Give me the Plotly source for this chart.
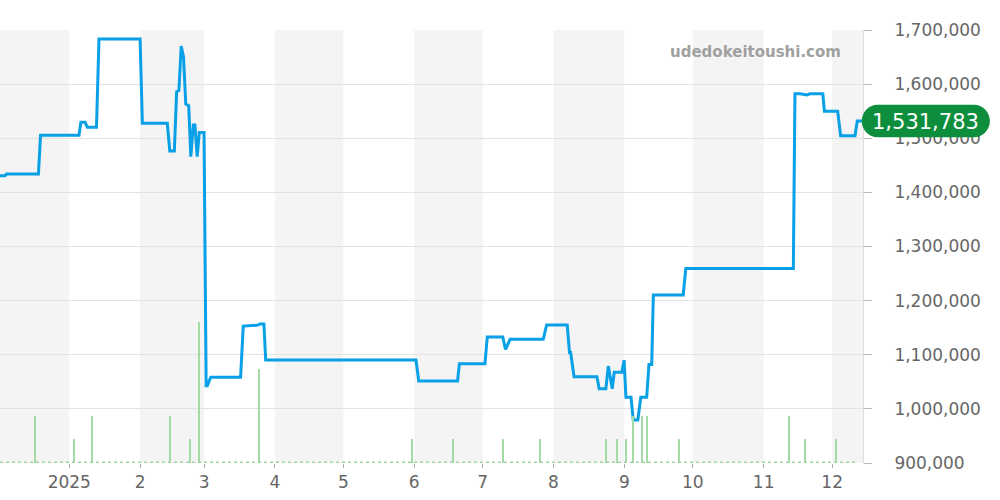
import plotly.graph_objects as go

# price history (JPY)
price_dates = [
    "2024-12-01 12:00", "2024-12-03 20:00", "2024-12-04 14:00", "2024-12-18 12:00", "2024-12-19 10:00",
    "2025-01-05 06:00", "2025-01-06 02:00", "2025-01-07 22:00", "2025-01-08 22:00", "2025-01-12 22:00",
    "2025-01-14 00:00", "2025-02-01 00:00", "2025-02-02 00:00", "2025-02-12 22:00", "2025-02-14 00:00",
    "2025-02-16 00:00", "2025-02-17 00:00", "2025-02-18 00:00", "2025-02-19 00:00", "2025-02-20 00:00",
    "2025-02-21 00:00", "2025-02-22 07:00", "2025-02-23 05:00", "2025-02-24 07:00", "2025-02-25 00:00",
    "2025-02-26 00:00", "2025-02-26 22:00", "2025-03-01 00:00", "2025-03-01 22:00", "2025-03-02 10:00",
    "2025-03-03 22:00", "2025-03-17 00:00", "2025-03-18 04:00", "2025-03-24 07:00", "2025-03-25 12:00",
    "2025-03-27 05:00", "2025-03-28 00:00", "2025-06-01 19:00", "2025-06-03 00:00", "2025-06-20 00:00",
    "2025-06-20 19:00", "2025-07-02 00:00", "2025-07-03 00:00", "2025-07-09 19:00", "2025-07-11 00:00",
    "2025-07-13 00:00", "2025-07-27 12:00", "2025-07-29 00:00", "2025-08-07 00:00", "2025-08-08 00:00",
    "2025-08-08 12:00", "2025-08-10 00:00", "2025-08-20 00:00", "2025-08-21 00:00", "2025-08-23 22:00",
    "2025-08-25 00:00", "2025-08-26 17:00", "2025-08-27 14:00", "2025-08-30 22:00", "2025-08-31 22:00",
    "2025-09-01 17:00", "2025-09-03 22:00", "2025-09-04 22:00", "2025-09-06 22:00", "2025-09-08 05:00",
    "2025-09-10 19:00", "2025-09-11 19:00", "2025-09-13 00:00", "2025-09-13 17:00", "2025-09-26 19:00",
    "2025-09-27 22:00", "2025-11-14 00:00", "2025-11-14 17:00", "2025-11-17 00:00", "2025-11-19 22:00",
    "2025-11-21 07:00", "2025-11-26 22:00", "2025-11-27 14:00", "2025-12-03 10:00", "2025-12-04 00:00",
    "2025-12-04 17:00", "2025-12-11 00:00", "2025-12-12 00:00", "2025-12-14 00:00",
]
prices = [
    1430500, 1430500, 1434000, 1434000, 1505500,
    1505500, 1529500, 1529500, 1520500, 1520500,
    1683500, 1683500, 1527500, 1527500, 1476500,
    1476500, 1586000, 1588000, 1670500, 1650500,
    1563000, 1560000, 1466000, 1524500, 1524500,
    1466000, 1510500, 1510500, 1042500, 1042500,
    1058500, 1058500, 1153000, 1154500, 1157000,
    1157000, 1090300, 1090300, 1051500, 1051500,
    1083500, 1083500, 1133000, 1133000, 1110000,
    1128500, 1128500, 1155000, 1155000, 1104000,
    1104000, 1059500, 1059500, 1037000, 1037000,
    1079000, 1037000, 1067500, 1067500, 1090000,
    1021500, 1021500, 979500, 979500, 1021500,
    1021500, 1082000, 1082000, 1210500, 1210500,
    1259500, 1259500, 1582000, 1582000, 1580000,
    1582000, 1582000, 1550000, 1550000, 1525000,
    1504500, 1504500, 1531783, 1531783,
]

# trade volume
vol_dates = [
    "2024-12-17", "2025-01-03", "2025-01-11", "2025-02-14", "2025-02-23", "2025-02-27",
    "2025-03-25", "2025-05-31", "2025-06-18", "2025-07-10", "2025-07-26", "2025-08-24",
    "2025-08-29", "2025-09-02", "2025-09-05", "2025-09-09", "2025-09-11", "2025-09-25",
    "2025-11-12", "2025-11-19", "2025-12-03",
]
volumes = [2, 1, 2, 2, 1, 6, 4, 1, 1, 1, 1, 1, 1, 1, 2, 2, 2, 1, 2, 1, 1]

tick_dates = ["2025-01-01", "2025-02-01", "2025-03-01", "2025-04-01", "2025-05-01", "2025-06-01",
              "2025-07-01", "2025-08-01", "2025-09-01", "2025-10-01", "2025-11-01", "2025-12-01"]
tick_text = ["2025", "2", "3", "4", "5", "6", "7", "8", "9", "10", "11", "12"]

x_range = ["2024-12-01 16:00", "2025-12-14 12:00"]
shaded = [(x_range[0], "2025-01-01"), ("2025-02-01", "2025-03-01"), ("2025-04-01", "2025-05-01"),
          ("2025-06-01", "2025-07-01"), ("2025-08-01", "2025-09-01"), ("2025-10-01", "2025-11-01"),
          ("2025-12-01", x_range[1])]

FONT = "DejaVu Sans"

fig = go.Figure()
fig.add_trace(go.Bar(x=vol_dates, y=volumes, yaxis="y2", width=57000000,
                     marker=dict(color="#a3dba4", line=dict(width=0)), hoverinfo="skip"))
fig.add_trace(go.Scatter(x=price_dates, y=prices, mode="lines",
                         line=dict(color="#08a0e6", width=3)))

shapes = []
for a, b in shaded:
    shapes.append(dict(type="rect", xref="x", yref="paper", x0=a, x1=b, y0=0, y1=1,
                       fillcolor="#f4f4f4", line=dict(width=0), layer="below"))
# dotted baseline under the volume bars
shapes.append(dict(type="line", xref="paper", yref="paper", x0=0, x1=0.993, y0=0.002, y1=0.002,
                   line=dict(color="#9fd6a0", width=1.5, dash="dot")))

# pill label for latest price
last = prices[-1]
x0, x1 = 0.9985, 1.147
r = 16 / 863
h = 30000
k = 0.5523
path = (f"M {x0 + r},{last - h} L {x1 - r},{last - h} "
        f"C {x1 - r + k * r},{last - h} {x1},{last - k * h} {x1},{last} "
        f"C {x1},{last + k * h} {x1 - r + k * r},{last + h} {x1 - r},{last + h} "
        f"L {x0 + r},{last + h} "
        f"C {x0 + r - k * r},{last + h} {x0},{last + k * h} {x0},{last} "
        f"C {x0},{last - k * h} {x0 + r - k * r},{last - h} {x0 + r},{last - h} Z")
shapes.append(dict(type="path", xref="paper", yref="y", path=path,
                   fillcolor="#0c8e3c", line=dict(width=0), layer="above"))

fig.update_layout(
    width=1000, height=500,
    margin=dict(l=0, r=137, t=30, b=37),
    paper_bgcolor="white", plot_bgcolor="white",
    showlegend=False, bargap=0,
    font=dict(family=FONT, color="#666"),
    shapes=shapes,
    xaxis=dict(type="date", range=x_range, tickvals=tick_dates, ticktext=tick_text,
               showgrid=False, zeroline=False, ticks="outside", ticklen=4, tickcolor="#aaa",
               showline=False, tickfont=dict(size=17, color="#666", family=FONT)),
    yaxis=dict(side="right", range=[900000, 1700000], dtick=100000, tickformat=",",
               showgrid=True, gridcolor="#e2e2e2", zeroline=False, ticks="outside", ticklen=8,
               tickcolor="#bbb", showline=True, linecolor="#ddd", ticklabelstandoff=19,
               tickfont=dict(size=17, color="#666", family=FONT)),
    yaxis2=dict(overlaying="y", range=[0, 18.4], visible=False),
    annotations=[
        dict(text="1,531,783", xref="paper", yref="y", x=1.0725, y=last - 2500, showarrow=False,
             xanchor="center", yanchor="middle", font=dict(size=21, color="white", family=FONT)),
        dict(text="<b>udedokeitoushi.com</b>", xref="paper", yref="paper", x=0.875, y=0.949,
             showarrow=False, xanchor="center", yanchor="middle",
             font=dict(size=15, color="#a0a0a0", family=FONT)),
    ],
)

# the page's default 8px body margin would shift the chart; remove it
fig.write_html("out.html", config={"displayModeBar": False},
               post_script="document.body.style.margin = '0';")
